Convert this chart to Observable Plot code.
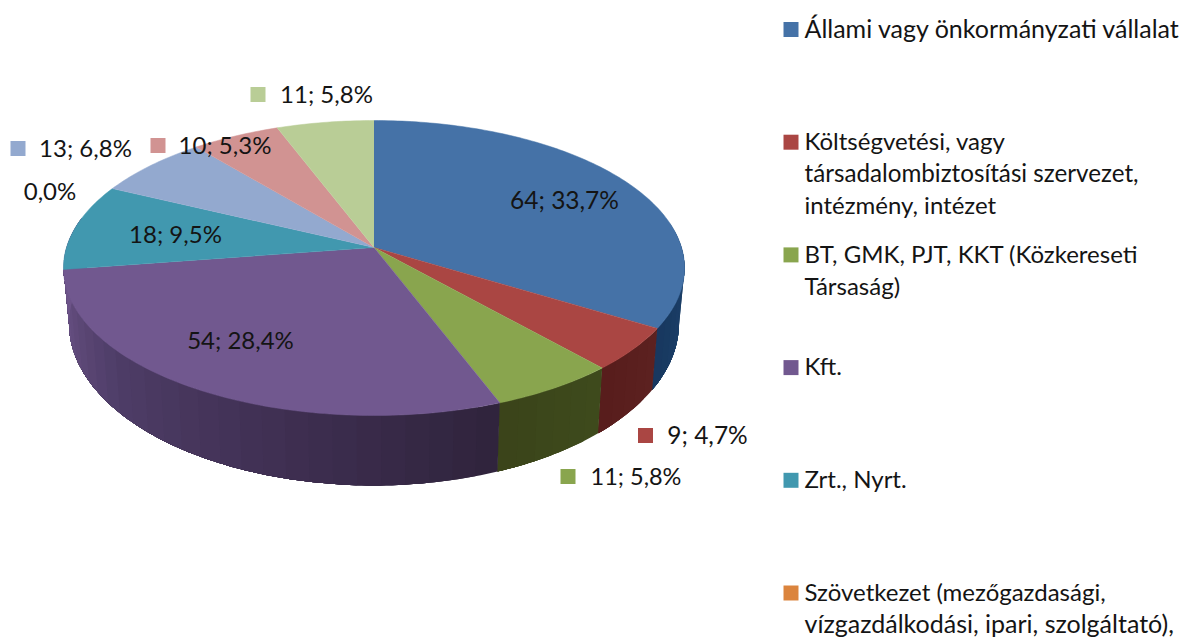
<!DOCTYPE html>
<html>
<head>
<meta charset="utf-8">
<style>html,body{margin:0;padding:0;background:#fff;overflow:hidden}</style>
<script src="https://cdn.jsdelivr.net/npm/d3@7"></script>
<script src="https://cdn.jsdelivr.net/npm/@observablehq/plot@0.6"></script>
</head>
<body>
<div id="chart"></div>
<script>
const categories = [
  ["Állami vagy önkormányzati vállalat"],
  ["Költségvetési, vagy", "társadalombiztosítási szervezet,", "intézmény, intézet"],
  ["BT, GMK, PJT, KKT (Közkereseti", "Társaság)"],
  ["Kft."],
  ["Zrt., Nyrt."],
  ["Szövetkezet (mezőgazdasági,", "vízgazdálkodási, ipari, szolgáltató),"]
];
const legendSizes = [[25], [24, 24.2, 24], [24, 24], [24], [24], [24, 25]];
const values = [64, 9, 11, 54, 18, 0, 13, 10, 11];
const showCount = [true, true, true, true, true, false, true, true, true];
const topColors = ["#4572a7", "#aa4643", "#89a54e", "#71588f", "#4198af", "#db843d", "#93a9cf", "#d19392", "#b9cd96"];
const sideColors = [
  ["#1f4670", "#17375e"], ["#5c2120", "#571c1b"], ["#3e4a1c", "#3a4319"],
  ["#30243d", "#3f2f52", "#4e3d67", "#6d5489"], ["#6d5489", "#6d5489"], ["#db843d", "#db843d"],
  ["#93a9cf", "#93a9cf"], ["#d19392", "#d19392"], ["#b9cd96", "#b9cd96"]
];
// label layout, by slice: text centre x, y; swatch centre x, or null
const labelX = [564, 707, 635.5, 240, 175, 49.5, 85, 224.5, 326];
const labelY = [201, 436, 477, 341, 235, 192, 149, 146, 95];
const labelSizes = [24.5, 24.5, 23.5, 24, 24, 24, 24, 24, 24];
const swatchX = [null, 645, 567.5, null, null, null, 17.5, 157.5, 257.5];

const W = 1181, H = 637;
const total = d3.sum(values);
const cx = 373.5, k = 0.139;
const topFace = {y0: 247, A: 144.65, B: 307.5};
const lowFace = {y0: 300.5, A: 158.8, B: 302};
const rad = d => d * Math.PI / 180;
function project(face, deg) {
  const X = Math.sin(rad(deg)), Y = Math.cos(rad(deg)), w = 1 + k * Y;
  return [cx + face.B * X / w, face.y0 - face.A * Y / w];
}
let acc = 0;
const slices = values.map((v, i) => {
  const a0 = acc / total * 360; acc += v;
  return {i, v, a0, a1: acc / total * 360};
});
function arcDegrees(a0, a1, step = 1) {
  const n = Math.max(1, Math.ceil((a1 - a0) / step));
  return d3.range(n + 1).map(j => a0 + (a1 - a0) * j / n);
}
const topPts = [];
slices.filter(s => s.v > 0).forEach(s => {
  const push = ([x, y]) => topPts.push({x, y, z: "t" + s.i, c: topColors[s.i]});
  push([cx, topFace.y0]);
  arcDegrees(s.a0, s.a1).forEach(a => push(project(topFace, a)));
});
// Each band runs from its start to the end of the slice, so later bands paint over earlier ones without seams
const sidePts = [];
slices.filter(s => s.v > 0).forEach(s => {
  const a0 = Math.max(s.a0, 80), a1 = Math.min(s.a1, 282);
  if (a1 <= a0) return;
  const ramp = d3.piecewise(d3.interpolateRgb, sideColors[s.i]);
  const ds = arcDegrees(a0, a1, 4);
  const edge = arcDegrees(a0, a1);
  ds.slice(0, -1).forEach((a, j) => {
    const z = "s" + s.i + "_" + j, c = ramp((a - a0) / (a1 - a0));
    const arc = [a, ...edge.filter(e => e > a)];
    [...arc.map(e => project(topFace, e)), ...arc.slice().reverse().map(e => project(lowFace, e))]
      .forEach(([x, y]) => sidePts.push({x, y, z, c}));
  });
});
const fmt = v => (v / total * 100).toFixed(1).replace(".", ",") + "%";
const labels = values.map((v, i) => ({
  x: labelX[i], y: labelY[i], s: labelSizes[i],
  t: (showCount[i] ? v + "; " : "") + fmt(v)
}));
const swatches = values.map((v, i) => ({x: swatchX[i], y: labelY[i] - 1, c: topColors[i]})).filter(d => d.x != null);
const legendTop = 29, legendStep = 112.7, lineStep = 32;
const legendKeys = categories.map((c, i) => ({y: legendTop + i * legendStep, c: topColors[i]}));
const legendLines = categories.flatMap((lines, i) =>
  lines.map((t, j) => ({t, i, s: legendSizes[i][j], y: legendTop + i * legendStep + j * lineStep})));

const font = "Lato, 'Noto Sans', sans-serif";
const soft = "blur(0.6px)";
const plot = Plot.plot({
  width: W, height: H, margin: 0,
  x: {domain: [0, W], range: [0, W], axis: null},
  y: {domain: [0, H], range: [0, H], axis: null},
  color: {type: "identity"},
  style: {background: "#fff", fontFamily: font},
  marks: [
    Plot.line(sidePts, {x: "x", y: "y", z: "z", fill: "c", stroke: "none", imageFilter: soft}),
    Plot.line(topPts, {x: "x", y: "y", z: "z", fill: "c", stroke: "c", strokeWidth: 0.5, imageFilter: soft}),
    Plot.dot(swatches, {x: "x", y: "y", symbol: "square", r: 8.46, fill: "c", stroke: "none"}),
    Plot.text(labels, {x: "x", y: "y", text: "t", fontSize: "s", fill: "#141414", textAnchor: "middle", fontFamily: font}),
    Plot.dot(legendKeys, {x: 790.5, y: "y", symbol: "square", r: 8.46, fill: "c", stroke: "none"}),
    Plot.text(legendLines, {x: 804, y: "y", text: "t", fontSize: "s", fill: "#141414", textAnchor: "start", fontFamily: font})
  ]
});
document.getElementById("chart").appendChild(plot);
</script>
</body>
</html>
